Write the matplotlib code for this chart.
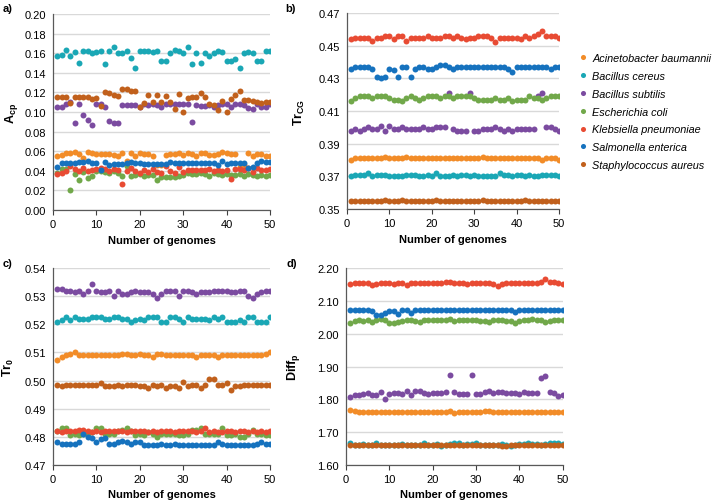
import matplotlib
matplotlib.use("Agg")
import matplotlib.pyplot as plt
import numpy as np

plt.rcParams['font.family'] = ['Liberation Sans', 'DejaVu Sans']
plt.rcParams['mathtext.fontset'] = 'custom'
plt.rcParams['mathtext.rm'] = 'Liberation Sans'
plt.rcParams['mathtext.bf'] = 'Liberation Sans:bold'
plt.rcParams['mathtext.it'] = 'Liberation Sans:italic'

species = ["Acinetobacter baumannii", "Bacillus cereus", "Bacillus subtilis",
           "Escherichia coli", "Klebsiella pneumoniae", "Salmonella enterica",
           "Staphylococcus aureus"]
colors = ["#F28C28", "#1AA7B5", "#7B4BA0", "#71A84A", "#E84B33", "#1672BE", "#C1601C"]
genomes = list(range(1, 51))

# ---------------- panel a: Acp ----------------
acp_ab = [0.055,0.056,0.058,0.058,0.059,0.057,0.053,0.059,0.058,0.057,0.057,0.057,0.057,0.056,0.055,0.058,0.050,0.058,0.055,0.058,
          0.057,0.057,0.055,0.046,0.046,0.056,0.057,0.057,0.058,0.056,0.058,0.057,0.055,0.058,0.058,0.056,0.056,0.057,0.059,0.058,
          0.057,0.057,0.044,0.046,0.058,0.055,0.057,0.057,0.055,0.055]
acp_bc = [0.157,0.158,0.163,0.157,0.161,0.150,0.162,0.162,0.160,0.161,0.162,0.149,0.162,0.166,0.160,0.160,0.162,0.155,0.145,0.162,
          0.162,0.162,0.161,0.162,0.152,0.152,0.160,0.163,0.162,0.160,0.166,0.149,0.160,0.150,0.160,0.157,0.160,0.162,0.161,0.152,
          0.152,0.154,0.145,0.160,0.161,0.160,0.152,0.152,0.162,0.162]
acp_bs = [0.105,0.105,0.108,0.110,0.089,0.108,0.097,0.092,0.087,0.108,0.108,0.105,0.091,0.089,0.089,0.107,0.107,0.107,0.107,0.105,
          0.108,0.107,0.108,0.107,0.105,0.108,0.108,0.108,0.108,0.108,0.108,0.090,0.107,0.106,0.106,0.107,0.105,0.107,0.108,0.108,
          0.105,0.108,0.108,0.107,0.104,0.103,0.108,0.105,0.105,0.108]
acp_ec = [0.038,0.042,0.042,0.020,0.037,0.031,0.039,0.033,0.035,0.040,0.040,0.039,0.038,0.040,0.038,0.035,0.045,0.035,0.036,0.037,
          0.035,0.036,0.036,0.031,0.034,0.034,0.034,0.034,0.035,0.036,0.038,0.037,0.037,0.038,0.037,0.035,0.038,0.037,0.036,0.037,
          0.036,0.036,0.037,0.035,0.037,0.036,0.035,0.036,0.035,0.036]
acp_kp = [0.037,0.038,0.040,0.045,0.042,0.040,0.043,0.040,0.041,0.042,0.043,0.042,0.040,0.042,0.041,0.027,0.040,0.043,0.040,0.038,
          0.041,0.039,0.042,0.039,0.038,0.045,0.040,0.038,0.044,0.039,0.041,0.041,0.041,0.041,0.041,0.042,0.040,0.041,0.040,0.041,
          0.032,0.042,0.042,0.041,0.043,0.039,0.043,0.041,0.041,0.042]
acp_se = [0.044,0.048,0.048,0.048,0.048,0.049,0.049,0.050,0.048,0.048,0.041,0.049,0.046,0.047,0.047,0.047,0.048,0.049,0.048,0.048,
          0.047,0.047,0.047,0.047,0.047,0.047,0.049,0.048,0.048,0.048,0.048,0.048,0.048,0.048,0.048,0.048,0.048,0.046,0.050,0.047,
          0.048,0.048,0.048,0.048,0.043,0.044,0.048,0.050,0.049,0.049]
acp_sa = [0.115,0.115,0.115,0.109,0.115,0.115,0.115,0.115,0.113,0.114,0.106,0.120,0.119,0.117,0.116,0.123,0.123,0.121,0.121,0.105,
          0.109,0.117,0.110,0.117,0.110,0.116,0.110,0.103,0.118,0.100,0.114,0.115,0.115,0.119,0.115,0.108,0.107,0.102,0.111,0.100,
          0.113,0.117,0.121,0.112,0.112,0.111,0.110,0.109,0.110,0.110]

# ---------------- panel b: TrCG ----------------
trcg_ab = [0.380,0.381,0.381,0.381,0.381,0.381,0.381,0.381,0.382,0.381,0.381,0.381,0.381,0.382,0.381,0.381,0.381,0.381,0.381,0.381,
           0.381,0.381,0.381,0.381,0.381,0.381,0.381,0.381,0.381,0.381,0.381,0.382,0.381,0.381,0.381,0.381,0.381,0.381,0.381,0.381,
           0.381,0.381,0.381,0.381,0.381,0.380,0.381,0.381,0.381,0.380]
trcg_bc = [0.370,0.371,0.371,0.371,0.372,0.370,0.371,0.371,0.371,0.370,0.370,0.370,0.370,0.371,0.371,0.371,0.370,0.370,0.371,0.370,
           0.372,0.370,0.370,0.370,0.371,0.370,0.371,0.371,0.370,0.371,0.370,0.370,0.370,0.370,0.370,0.372,0.371,0.371,0.370,0.371,
           0.371,0.370,0.371,0.370,0.370,0.371,0.371,0.371,0.371,0.370]
trcg_bs = [0.398,0.399,0.398,0.399,0.400,0.399,0.399,0.401,0.398,0.401,0.399,0.399,0.400,0.399,0.399,0.399,0.399,0.400,0.399,0.399,
           0.400,0.400,0.400,0.421,0.399,0.398,0.398,0.398,0.421,0.398,0.398,0.399,0.399,0.399,0.400,0.399,0.398,0.399,0.398,0.399,
           0.399,0.399,0.399,0.399,0.419,0.421,0.400,0.400,0.399,0.398]
trcg_ec = [0.416,0.418,0.419,0.419,0.419,0.418,0.419,0.419,0.419,0.418,0.417,0.417,0.416,0.418,0.419,0.418,0.417,0.418,0.419,0.419,
           0.419,0.418,0.419,0.419,0.418,0.419,0.419,0.419,0.419,0.418,0.417,0.417,0.417,0.417,0.418,0.417,0.417,0.418,0.416,0.417,
           0.417,0.417,0.419,0.418,0.418,0.417,0.418,0.419,0.419,0.419]
trcg_kp = [0.454,0.455,0.455,0.455,0.455,0.453,0.455,0.455,0.456,0.456,0.454,0.456,0.456,0.453,0.455,0.455,0.455,0.455,0.456,0.455,
           0.455,0.455,0.456,0.456,0.455,0.456,0.455,0.454,0.455,0.455,0.456,0.456,0.456,0.455,0.452,0.455,0.455,0.455,0.455,0.455,
           0.454,0.456,0.455,0.456,0.457,0.459,0.456,0.456,0.456,0.455]
trcg_se = [0.436,0.437,0.437,0.437,0.437,0.436,0.431,0.430,0.431,0.436,0.435,0.431,0.437,0.437,0.431,0.436,0.437,0.437,0.436,0.436,
           0.437,0.438,0.438,0.437,0.436,0.437,0.437,0.437,0.437,0.437,0.437,0.437,0.437,0.437,0.437,0.437,0.437,0.436,0.434,0.437,
           0.437,0.437,0.437,0.437,0.437,0.437,0.437,0.436,0.437,0.437]
trcg_sa = [0.355,0.355,0.355,0.355,0.355,0.355,0.355,0.355,0.3555,0.355,0.355,0.355,0.3555,0.355,0.355,0.355,0.355,0.355,0.355,0.355,
           0.3555,0.355,0.355,0.355,0.355,0.355,0.355,0.355,0.355,0.355,0.355,0.3555,0.355,0.355,0.355,0.355,0.355,0.355,0.355,0.355,
           0.3548,0.3555,0.355,0.355,0.355,0.355,0.355,0.355,0.355,0.355]

# ---------------- panel c: Tr0 ----------------
tr0_ab = [0.5075,0.5085,0.509,0.5095,0.510,0.509,0.509,0.509,0.509,0.509,0.509,0.509,0.509,0.509,0.509,0.5095,0.5095,0.509,0.509,0.5095,
          0.509,0.509,0.5085,0.5095,0.5095,0.509,0.509,0.509,0.509,0.509,0.509,0.509,0.5085,0.509,0.509,0.509,0.509,0.5085,0.509,0.509,
          0.509,0.509,0.509,0.509,0.509,0.509,0.509,0.509,0.5095,0.510]
tr0_bc = [0.521,0.5215,0.5225,0.5215,0.5225,0.522,0.522,0.522,0.5225,0.5225,0.5225,0.522,0.522,0.5225,0.5225,0.522,0.522,0.521,0.5215,0.522,
          0.5215,0.5225,0.5225,0.5225,0.521,0.521,0.5225,0.5225,0.522,0.521,0.5225,0.522,0.522,0.522,0.522,0.5215,0.5225,0.522,0.5225,0.521,
          0.521,0.521,0.5215,0.521,0.5225,0.5225,0.521,0.521,0.521,0.5225]
tr0_bs = [0.5325,0.5325,0.532,0.532,0.5315,0.532,0.531,0.532,0.5345,0.532,0.5315,0.5315,0.532,0.530,0.532,0.531,0.531,0.5315,0.532,0.5315,
          0.5315,0.5315,0.531,0.5295,0.531,0.532,0.532,0.532,0.530,0.532,0.532,0.5315,0.531,0.5315,0.5315,0.5315,0.532,0.532,0.532,0.532,
          0.5315,0.5315,0.532,0.532,0.530,0.5295,0.531,0.5315,0.532,0.532]
tr0_ec = [0.482,0.483,0.483,0.4805,0.481,0.4805,0.481,0.481,0.4815,0.483,0.483,0.481,0.481,0.481,0.482,0.4825,0.483,0.482,0.4805,0.481,
          0.4805,0.4815,0.481,0.480,0.481,0.481,0.481,0.481,0.4805,0.4805,0.481,0.4825,0.4825,0.483,0.481,0.481,0.481,0.481,0.483,0.4805,
          0.4805,0.481,0.480,0.480,0.481,0.4825,0.481,0.481,0.4805,0.4805]
tr0_kp = [0.482,0.4815,0.482,0.482,0.482,0.4825,0.4825,0.482,0.4815,0.482,0.4815,0.482,0.482,0.482,0.482,0.482,0.4815,0.482,0.482,0.482,
          0.482,0.4815,0.482,0.4815,0.482,0.482,0.482,0.4815,0.482,0.482,0.482,0.482,0.4815,0.482,0.483,0.4815,0.482,0.4815,0.4815,0.482,
          0.482,0.4815,0.482,0.482,0.4815,0.482,0.4815,0.482,0.4815,0.482]
tr0_se = [0.478,0.4775,0.4775,0.4775,0.4775,0.478,0.481,0.480,0.4795,0.478,0.479,0.4795,0.4775,0.4775,0.478,0.4785,0.478,0.4775,0.478,0.478,
          0.477,0.477,0.477,0.477,0.4775,0.477,0.477,0.4775,0.477,0.477,0.477,0.477,0.477,0.477,0.477,0.477,0.477,0.478,0.4775,0.477,
          0.477,0.477,0.477,0.477,0.477,0.477,0.4775,0.478,0.4775,0.4775]
tr0_sa = [0.4985,0.498,0.4985,0.4985,0.4985,0.4985,0.4985,0.4985,0.4985,0.4985,0.499,0.498,0.498,0.498,0.4985,0.498,0.4985,0.4985,0.4985,0.498,
          0.498,0.4975,0.4985,0.498,0.4985,0.4975,0.498,0.498,0.4975,0.4995,0.498,0.4985,0.4985,0.4975,0.4985,0.5005,0.5005,0.4985,0.4985,0.499,
          0.4965,0.498,0.498,0.4985,0.4985,0.4985,0.4985,0.4985,0.4985,0.4985]

# ---------------- panel d: Diffp ----------------
diff_ab = [1.768,1.763,1.762,1.762,1.761,1.762,1.760,1.761,1.762,1.761,1.762,1.761,1.762,1.762,1.761,1.761,1.761,1.760,1.761,1.761,
           1.761,1.761,1.762,1.764,1.758,1.760,1.761,1.761,1.761,1.761,1.762,1.763,1.763,1.762,1.762,1.761,1.761,1.761,1.761,1.761,
           1.761,1.761,1.761,1.760,1.761,1.762,1.761,1.761,1.761,1.761]
diff_bc = [1.666,1.660,1.660,1.662,1.660,1.660,1.665,1.660,1.660,1.660,1.660,1.660,1.662,1.660,1.660,1.660,1.661,1.665,1.661,1.660,
           1.664,1.658,1.660,1.662,1.666,1.666,1.660,1.662,1.664,1.665,1.660,1.660,1.660,1.661,1.660,1.664,1.660,1.658,1.660,1.662,
           1.664,1.666,1.664,1.662,1.660,1.664,1.666,1.666,1.666,1.662]
diff_bs = [1.808,1.812,1.812,1.815,1.818,1.812,1.812,1.822,1.800,1.815,1.818,1.818,1.815,1.825,1.812,1.825,1.825,1.820,1.815,1.818,
           1.820,1.820,1.822,1.875,1.822,1.815,1.815,1.815,1.873,1.815,1.815,1.822,1.825,1.820,1.822,1.822,1.818,1.818,1.818,1.815,
           1.822,1.820,1.818,1.818,1.865,1.870,1.822,1.820,1.810,1.812]
diff_ec = [2.033,2.040,2.043,2.040,2.043,2.035,2.043,2.044,2.042,2.034,2.033,2.037,2.040,2.043,2.042,2.040,2.036,2.043,2.043,2.041,
           2.041,2.042,2.043,2.044,2.040,2.042,2.043,2.042,2.043,2.042,2.040,2.038,2.037,2.041,2.041,2.041,2.040,2.039,2.034,2.040,
           2.041,2.041,2.045,2.043,2.041,2.037,2.039,2.041,2.043,2.042]
diff_kp = [2.153,2.155,2.154,2.155,2.154,2.149,2.153,2.154,2.155,2.156,2.153,2.156,2.155,2.150,2.154,2.155,2.155,2.154,2.155,2.155,
           2.154,2.155,2.157,2.157,2.155,2.155,2.154,2.153,2.154,2.154,2.155,2.156,2.155,2.153,2.147,2.153,2.155,2.155,2.155,2.154,
           2.154,2.154,2.156,2.155,2.158,2.166,2.157,2.157,2.156,2.153]
diff_se = [2.072,2.073,2.073,2.073,2.073,2.070,2.058,2.057,2.062,2.071,2.070,2.060,2.072,2.072,2.063,2.072,2.073,2.072,2.072,2.072,
           2.074,2.074,2.074,2.074,2.073,2.073,2.073,2.073,2.073,2.073,2.073,2.073,2.073,2.073,2.073,2.073,2.073,2.072,2.067,2.073,
           2.073,2.073,2.073,2.073,2.074,2.074,2.072,2.072,2.073,2.073]
diff_sa = [1.660,1.660,1.660,1.660,1.660,1.660,1.660,1.660,1.660,1.660,1.660,1.660,1.660,1.661,1.660,1.660,1.660,1.660,1.660,1.660,
           1.661,1.660,1.660,1.660,1.660,1.660,1.661,1.660,1.660,1.660,1.660,1.661,1.660,1.660,1.660,1.657,1.657,1.660,1.660,1.661,
           1.661,1.661,1.660,1.660,1.660,1.660,1.660,1.660,1.660,1.660]

panels = [
    dict(rect=[0.0741, 0.5797, 0.3035, 0.3904], series=[acp_ab, acp_bc, acp_bs, acp_ec, acp_kp, acp_se, acp_sa],
         ylim=(0.0, 0.20), step=0.02, ylabel=r"$\mathbf{A_{cp}}$", tag="a)", tagxy=(0.004, 0.992), ylx=-0.15),
    dict(rect=[0.4853, 0.5817, 0.2965, 0.3904], series=[trcg_ab, trcg_bc, trcg_bs, trcg_ec, trcg_kp, trcg_se, trcg_sa],
         ylim=(0.35, 0.47), step=0.02, ylabel=r"$\mathbf{Tr_{CG}}$", tag="b)", tagxy=(0.399, 0.992), ylx=-0.188),
    dict(rect=[0.0741, 0.0723, 0.3035, 0.3912], series=[tr0_ab, tr0_bc, tr0_bs, tr0_ec, tr0_kp, tr0_se, tr0_sa],
         ylim=(0.47, 0.54), step=0.01, ylabel=r"$\mathbf{Tr_0}$", tag="c)", tagxy=(0.004, 0.484), ylx=-0.17),
    dict(rect=[0.4839, 0.0723, 0.3031, 0.3912], series=[diff_ab, diff_bc, diff_bs, diff_ec, diff_kp, diff_se, diff_sa],
         ylim=(1.60, 2.20), step=0.10, ylabel=r"$\mathbf{Diff_p}$", tag="d)", tagxy=(0.401, 0.484), ylx=-0.205),
]

fig = plt.figure(figsize=(7.15, 5.02), dpi=100)
handles = []
for p in panels:
    ax = fig.add_axes(p["rect"])
    for s, c, name in zip(p["series"], colors, species):
        h, = ax.plot(genomes, s, 'o', ms=4.3, color=c, mec=c, mew=0, linestyle='none', label=name, zorder=3)
        if len(handles) < len(species):
            handles.append(h)
    lo, hi = p["ylim"]
    ax.set_xlim(0, 50)
    ax.set_ylim(lo, hi)
    yt = np.round(np.arange(lo, hi + p["step"] / 2, p["step"]), 3)
    ax.set_yticks(yt)
    ax.set_yticklabels(["%.2f" % v for v in yt])
    ax.set_xticks([0, 10, 20, 30, 40, 50])
    ax.yaxis.grid(True, color="#D9D9D9", linewidth=1.0, zorder=0)
    ax.set_axisbelow(True)
    for sp in ["top", "right"]:
        ax.spines[sp].set_visible(False)
    ax.spines["left"].set_color("#595959")
    ax.spines["bottom"].set_color("#595959")
    ax.spines["left"].set_linewidth(0.9)
    ax.spines["bottom"].set_linewidth(0.9)
    ax.tick_params(axis="y", length=0, labelsize=8, colors="#404040", pad=5)
    ax.tick_params(axis="x", length=3.5, direction="out", labelsize=8, colors="#404040", pad=3)
    for t in ax.get_xticklabels() + ax.get_yticklabels():
        t.set_color("#000000")
    ax.set_xlabel("Number of genomes", fontsize=8, fontweight="bold", labelpad=4)
    ax.set_ylabel(p["ylabel"], fontsize=9)
    ax.yaxis.set_label_coords(p["ylx"], 0.5)
    fig.text(p["tagxy"][0], p["tagxy"][1], p["tag"], fontsize=8, fontweight="bold", va="top", ha="left")

fig.legend(handles, species, loc="upper left", bbox_to_anchor=(0.811, 0.892), frameon=False,
           prop={"style": "italic", "size": 7.8}, handlelength=0.6, handletextpad=0.55,
           labelspacing=0.72, markerscale=0.85, borderaxespad=0, borderpad=0)

fig.savefig("out.png", dpi=100)
